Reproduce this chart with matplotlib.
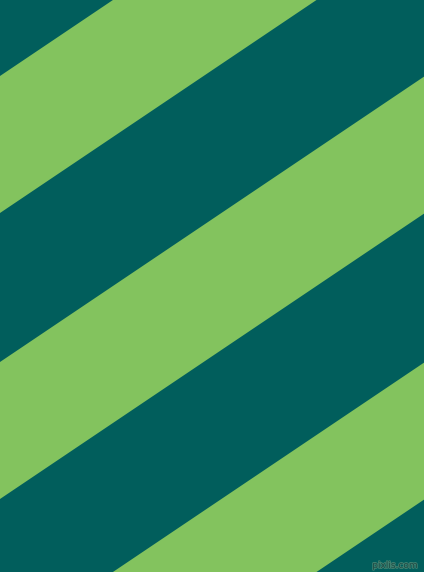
import numpy as np
import matplotlib.pyplot as plt
import matplotlib.patheffects as pe

# stripe edges: y where each green band starts/ends at the left edge (x=0)
green_start = [76, 362, 648]
green_end = [213, 499, 785]
slope = 0.673  # y drops this much per pixel to the right

dark = "#015E5C"
green = "#83C35E"

W, H = 424, 572
fig = plt.figure(figsize=(W / 100, H / 100), dpi=100)
ax = fig.add_axes([0, 0, 1, 1])
ax.set_facecolor(dark)
fig.patch.set_facecolor(dark)

x = np.array([0, W])
for b1, b2 in zip(green_start, green_end):
    ax.fill_between(x, b1 - slope * x, b2 - slope * x, color=green, linewidth=0)

# small watermark, dark letters with a lighter rim
ax.text(W - 6, H - 4, "pixlis.com", color="#1f4b45", fontsize=6.5,
        ha="right", va="baseline", family="DejaVu Sans",
        path_effects=[pe.withStroke(linewidth=1.2, foreground="#3f8070")])

ax.set_xlim(0, W)
ax.set_ylim(H, 0)
ax.axis("off")
fig.savefig("out.png", dpi=100, facecolor=dark)
